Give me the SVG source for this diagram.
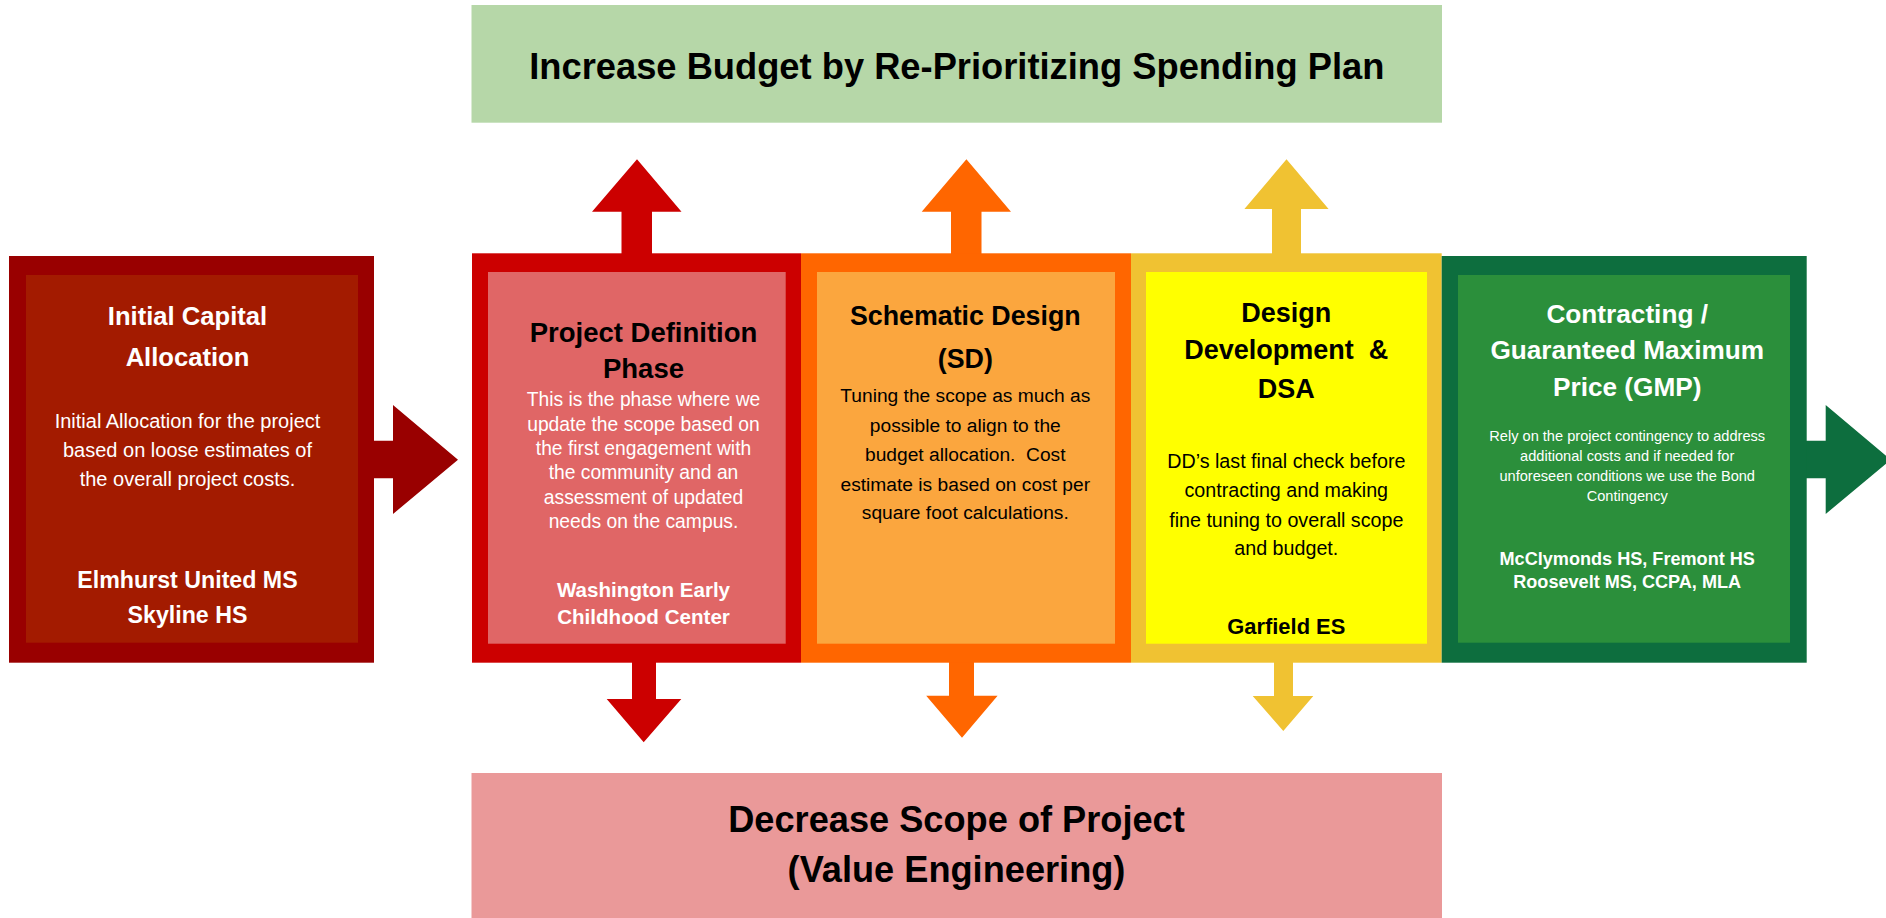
<svg xmlns="http://www.w3.org/2000/svg" width="1886" height="918" viewBox="0 0 1886 918">
<style>
text{font-family:"Liberation Sans",Arial,sans-serif;text-anchor:middle}
.b{font-weight:bold}
.w{fill:#ffffff}
.k{fill:#000000}
.pre{white-space:pre}
</style>
<rect width="1886" height="918" fill="#ffffff"/>
<g id="banner-top">
<rect x="471.5" y="5" width="970.5" height="117.7" fill="#B6D7A8"/>
<text class="b k" x="956.8" y="79" font-size="36.3">Increase Budget by Re-Prioritizing Spending Plan</text>
</g>
<g id="banner-bottom">
<rect x="471.5" y="773" width="970.5" height="150" fill="#EA9999"/>
<text class="b k" x="956.5" y="832.3" font-size="36.2">Decrease Scope of Project</text>
<text class="b k" x="956.5" y="882.3" font-size="36.2">(Value Engineering)</text>
</g>
<g id="connectors">
<polygon fill="#990000" points="372,440.7 393,440.7 393,405 458,459.7 393,514 393,478.3 372,478.3"/>
<polygon fill="#0D6E3E" points="1805,440.7 1825.7,440.7 1825.7,405 1890.7,459.7 1825.7,514 1825.7,478.3 1805,478.3"/>
<polygon fill="#CC0000" points="621.5,256 621.5,211.7 592,211.7 637,159.3 681.5,211.7 652,211.7 652,256"/>
<polygon fill="#FF6600" points="951,256 951,211.7 921.7,211.7 966.4,159.3 1011,211.7 981.5,211.7 981.5,256"/>
<polygon fill="#F0C232" points="1272,256 1272,209 1244.4,209 1286.5,159.3 1328.6,209 1301,209 1301,256"/>
<polygon fill="#CC0000" points="632,660 632,699 606.7,699 643.7,742.3 681.3,699 656,699 656,660"/>
<polygon fill="#FF6600" points="949,660 949,695.7 926.2,695.7 962,737.7 997.6,695.7 974,695.7 974,660"/>
<polygon fill="#F0C232" points="1274,660 1274,696 1252.7,696 1283.3,731 1313.3,696 1293,696 1293,660"/>
</g>
<g id="node-initial">
<rect x="9" y="256" width="365" height="406.7" fill="#990000"/>
<rect x="26" y="275" width="332" height="367.7" fill="#A31B00"/>
<text class="b w" x="187.5" y="325" font-size="25.6">Initial Capital</text>
<text class="b w" x="187.5" y="366" font-size="25.6">Allocation</text>
<text class="w" x="187.5" y="428.3" font-size="20">Initial Allocation for the project</text>
<text class="w" x="187.5" y="457.3" font-size="20">based on loose estimates of</text>
<text class="w" x="187.5" y="486" font-size="20">the overall project costs.</text>
<text class="b w" x="187.5" y="587.7" font-size="23.2">Elmhurst United MS</text>
<text class="b w" x="187.5" y="623.3" font-size="23.2">Skyline HS</text>
</g>
<g id="node-definition">
<rect x="472" y="253.3" width="329" height="409.4" fill="#CC0000"/>
<rect x="488" y="272" width="297.7" height="371.7" fill="#E06666"/>
<text class="b k" x="643.5" y="341.7" font-size="27.5">Project Definition</text>
<text class="b k" x="643.5" y="377.7" font-size="27.5">Phase</text>
<text class="w" x="643.5" y="405.7" font-size="19.3">This is the phase where we</text>
<text class="w" x="643.5" y="430.7" font-size="19.3">update the scope based on</text>
<text class="w" x="643.5" y="455" font-size="19.3">the first engagement with</text>
<text class="w" x="643.5" y="479.3" font-size="19.3">the community and an</text>
<text class="w" x="643.5" y="504" font-size="19.3">assessment of updated</text>
<text class="w" x="643.5" y="527.7" font-size="19.3">needs on the campus.</text>
<text class="b w" x="643.5" y="596.7" font-size="20.6">Washington Early</text>
<text class="b w" x="643.5" y="624.3" font-size="20.6">Childhood Center</text>
</g>
<g id="node-schematic">
<rect x="801" y="253.3" width="330" height="409.4" fill="#FF6600"/>
<rect x="817" y="272" width="298" height="371.7" fill="#FBA63E"/>
<text class="b k" x="965.3" y="325" font-size="26.8">Schematic Design</text>
<text class="b k" x="965.3" y="368.3" font-size="26.8">(SD)</text>
<text class="k" x="965.3" y="402.3" font-size="19.2">Tuning the scope as much as</text>
<text class="k" x="965.3" y="432.3" font-size="19.2">possible to align to the</text>
<text class="k pre" x="965.3" y="461" font-size="19.2">budget allocation.  Cost</text>
<text class="k" x="965.3" y="490.7" font-size="19.2">estimate is based on cost per</text>
<text class="k" x="965.3" y="519.3" font-size="19.2">square foot calculations.</text>
</g>
<g id="node-development">
<rect x="1131" y="253.3" width="310.7" height="409.4" fill="#F0C232"/>
<rect x="1146" y="272" width="281" height="371.7" fill="#FFFF00"/>
<text class="b k" x="1286.3" y="321.7" font-size="27">Design</text>
<text class="b k pre" x="1286.3" y="359.3" font-size="27">Development  &amp;</text>
<text class="b k" x="1286.3" y="397.7" font-size="27">DSA</text>
<text class="k" x="1286.3" y="468.3" font-size="19.7">DD’s last final check before</text>
<text class="k" x="1286.3" y="497.3" font-size="19.7">contracting and making</text>
<text class="k" x="1286.3" y="526.7" font-size="19.7">fine tuning to overall scope</text>
<text class="k" x="1286.3" y="555" font-size="19.7">and budget.</text>
<text class="b k" x="1286.3" y="634.3" font-size="21.9">Garfield ES</text>
</g>
<g id="node-contracting">
<rect x="1441.7" y="256" width="365" height="406.7" fill="#0D6E3E"/>
<rect x="1458" y="275" width="332" height="367.7" fill="#2B8F3B"/>
<text class="b w" x="1627.2" y="323.3" font-size="26.2">Contracting /</text>
<text class="b w" x="1627.2" y="359.3" font-size="26.2">Guaranteed Maximum</text>
<text class="b w" x="1627.2" y="396" font-size="26.2">Price (GMP)</text>
<text class="w" x="1627.2" y="440.7" font-size="14.6">Rely on the project contingency to address</text>
<text class="w" x="1627.2" y="460.7" font-size="14.6">additional costs and if needed for</text>
<text class="w" x="1627.2" y="481.3" font-size="14.6">unforeseen conditions we use the Bond</text>
<text class="w" x="1627.2" y="501.3" font-size="14.6">Contingency</text>
<text class="b w" x="1627.2" y="565" font-size="18.1">McClymonds HS, Fremont HS</text>
<text class="b w" x="1627.2" y="587.7" font-size="18.1">Roosevelt MS, CCPA, MLA</text>
</g>
</svg>
